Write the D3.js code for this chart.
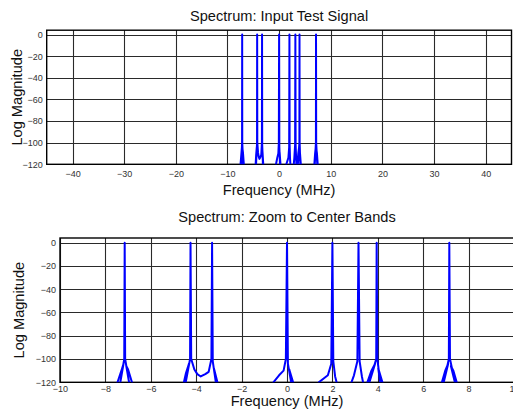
<!DOCTYPE html>
<html>
<head>
<meta charset="utf-8">
<script src="https://cdn.jsdelivr.net/npm/d3@7"></script>
<style>
  body { margin: 0; background: #fff; }
  svg { display: block; font-family: 'Liberation Sans', Arial, sans-serif; }
</style>
</head>
<body>
<div id="chart"></div>
<script>
// spectrum trace: frequency (MHz) and log magnitude (dB)
const spectrumFreq = [
  -45, -7.6,
  -7.5, -7.28, -7.2, -7.36, -7.17, -7.15, -7.13, -6.94, -7.08, -7.0, -6.8,
  -4.6, -4.45, -4.32, -4.48, -4.27, -4.25, -4.22, -4.08, -3.95, -3.8, -3.6, -3.45, -3.33, -3.3, -3.27, -3.12, -3.22, -3.0,
  -0.75, -0.6, -0.35, -0.15, -0.05, 0, 0.04, 0.2, 0.1, 0.3,
  1.25, 1.4, 1.8, 1.95, 2.0, 2.04, 2.12, 2.25,
  2.75, 2.95, 3.1, 3.15, 3.2, 3.3, 3.4,
  3.45, 3.72, 3.88, 3.6, 3.93, 3.95, 3.98, 4.12, 4.02, 4.28,
  6.75, 6.97, 7.1, 6.88, 7.13, 7.15, 7.18, 7.42, 7.22, 7.33, 7.55,
  7.7, 45
];
const spectrumDb = [
  -130, -130,
  -122, -109, -104, -122, -100, 0, -100, -122, -106, -109, -122,
  -125, -112, -104, -122, -100, 0, -100, -109, -113, -115, -113, -111, -100, 0, -102, -122, -108, -125,
  -130, -120, -114, -110, -100, 0, -104, -122, -109, -122,
  -130, -120, -114, -104, 0, -102, -115, -125,
  -125, -114, -102, 0, -102, -115, -125,
  -125, -110, -104, -122, -100, 0, -100, -122, -108, -125,
  -125, -110, -104, -122, -100, 0, -100, -122, -106, -110, -125,
  -130, -130
];

const yTicks = [0, -20, -40, -60, -80, -100, -120];
const topXTicks = [-40, -30, -20, -10, 0, 10, 20, 30, 40];
const zoomXTicks = [-10, -8, -6, -4, -2, 0, 2, 4, 6, 8, 10];

const topTitle = 'Spectrum: Input Test Signal';
const zoomTitle = 'Spectrum: Zoom to Center Bands';
const xLabel = 'Frequency (MHz)';
const yLabel = 'Log Magnitude';

const width = 513;
const height = 411;

const lineColor = '#0000ff';
const gridColor = '#2a2a2a';
const labelSize = 14.6;
const tickSize = 9;

const panels = [
  {
    id: 'full',
    title: topTitle,
    xDomain: [-45, 45],
    xTicks: topXTicks,
    box: { left: 46.7, right: 511.5, top: 30.2, bottom: 164.3 },
    titleY: 21,
    tickPad: 6,
    labelY: 195,
    yLabelX: 22
  },
  {
    id: 'zoom',
    title: zoomTitle,
    xDomain: [-10, 10],
    xTicks: zoomXTicks,
    box: { left: 60, right: 514, top: 238, bottom: 382.3 },
    titleY: 222,
    tickPad: 3,
    labelY: 406,
    yLabelX: 24
  }
];

const spectrum = spectrumFreq.map((f, i) => ({ f, db: spectrumDb[i] }));

const svg = d3
  .select('#chart')
  .append('svg')
  .attr('width', width)
  .attr('height', height);

panels.forEach(drawPanel);

function drawPanel(p) {
  const b = p.box;

  const x = d3.scaleLinear().domain(p.xDomain).range([b.left, b.right]);
  const y = d3.scaleLinear().domain([-120, 4]).range([b.bottom, b.top]);

  const g = svg.append('g').attr('id', p.id);

  g.append('clipPath')
    .attr('id', 'clip-' + p.id)
    .append('rect')
    .attr('x', b.left)
    .attr('y', b.top)
    .attr('width', b.right - b.left)
    .attr('height', b.bottom - b.top);

  // grid
  g.append('g')
    .selectAll('line')
    .data(p.xTicks)
    .join('line')
    .attr('x1', d => Math.round(x(d)) + 0.5)
    .attr('x2', d => Math.round(x(d)) + 0.5)
    .attr('y1', b.top)
    .attr('y2', b.bottom)
    .attr('stroke', gridColor)
    .attr('stroke-width', 1.1);

  g.append('g')
    .selectAll('line')
    .data(yTicks)
    .join('line')
    .attr('x1', b.left)
    .attr('x2', b.right)
    .attr('y1', d => Math.round(y(d)) + 0.5)
    .attr('y2', d => Math.round(y(d)) + 0.5)
    .attr('stroke', gridColor)
    .attr('stroke-width', 1.1);

  // axes box
  g.append('rect')
    .attr('x', b.left)
    .attr('y', b.top)
    .attr('width', b.right - b.left)
    .attr('height', b.bottom - b.top)
    .attr('fill', 'none')
    .attr('stroke', '#000')
    .attr('stroke-width', 1.4);

  // tick labels via d3 axes, tick lines hidden
  const xAxis = d3.axisBottom(x).tickValues(p.xTicks).tickSize(0).tickPadding(p.tickPad);
  g.append('g')
    .attr('transform', `translate(0,${b.bottom})`)
    .call(xAxis)
    .call(a => a.select('.domain').remove())
    .call(a => a.selectAll('text')
      .attr('font-family', 'Liberation Sans, Arial, sans-serif')
      .attr('font-size', tickSize)
      .attr('fill', '#333'));

  const yAxis = d3.axisLeft(y).tickValues(yTicks).tickSize(0).tickPadding(4);
  g.append('g')
    .attr('transform', `translate(${b.left},0)`)
    .call(yAxis)
    .call(a => a.select('.domain').remove())
    .call(a => a.selectAll('text')
      .attr('font-family', 'Liberation Sans, Arial, sans-serif')
      .attr('font-size', tickSize)
      .attr('fill', '#333'));

  // the trace
  const line = d3.line().x(d => x(d.f)).y(d => y(d.db));
  g.append('path')
    .datum(spectrum)
    .attr('clip-path', `url(#clip-${p.id})`)
    .attr('d', line)
    .attr('fill', 'none')
    .attr('stroke', lineColor)
    .attr('stroke-width', 2)
    .attr('stroke-linejoin', 'round');

  const cx = (b.left + b.right) / 2;

  g.append('text')
    .attr('x', cx)
    .attr('y', p.titleY)
    .attr('text-anchor', 'middle')
    .attr('font-size', labelSize)
    .attr('fill', '#111')
    .text(p.title);

  g.append('text')
    .attr('x', cx)
    .attr('y', p.labelY)
    .attr('text-anchor', 'middle')
    .attr('font-size', labelSize)
    .attr('fill', '#111')
    .text(xLabel);

  g.append('text')
    .attr('transform', `translate(${p.yLabelX},${(b.top + b.bottom) / 2}) rotate(-90)`)
    .attr('text-anchor', 'middle')
    .attr('font-size', labelSize)
    .attr('fill', '#111')
    .text(yLabel);
}
</script>
</body>
</html>
